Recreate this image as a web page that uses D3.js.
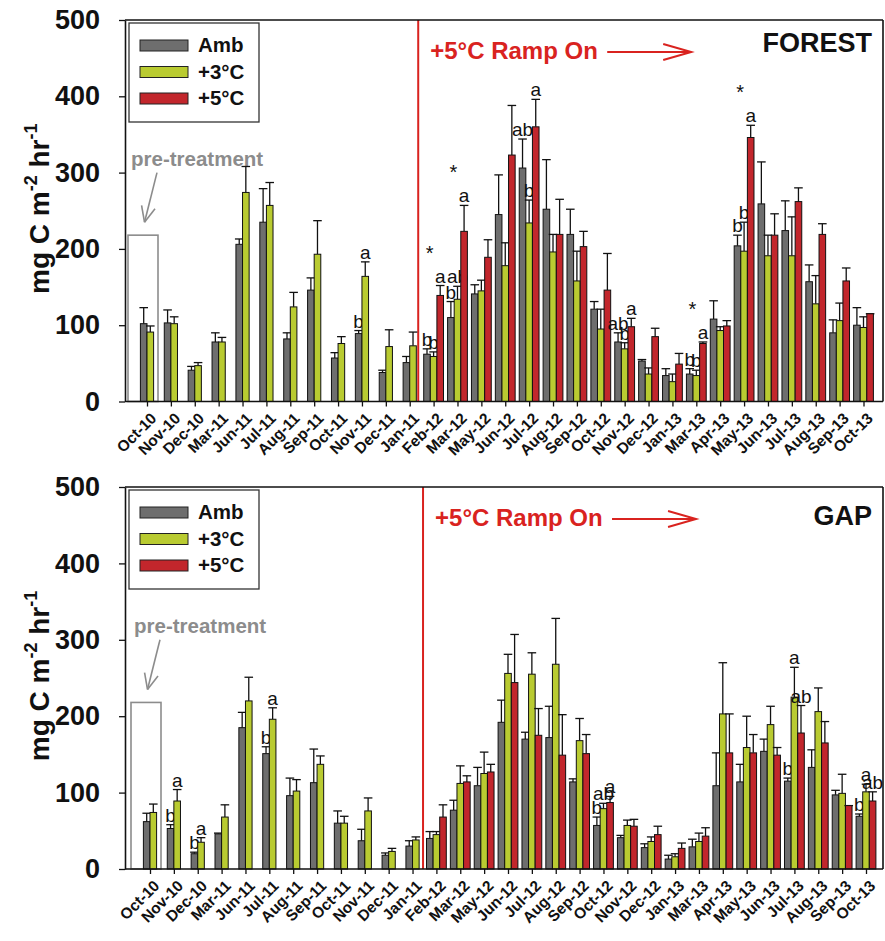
<!DOCTYPE html>
<html>
<head>
<meta charset="utf-8">
<script src="https://cdn.jsdelivr.net/npm/d3@7"></script>
<style>
  body { margin: 0; background: #fff; }
  svg { font-family: Arial, "Liberation Sans", sans-serif; }
</style>
</head>
<body>
<svg id="chart" width="885" height="941"></svg>
<script>
// sampling months (x categories)
const months = ["Oct-10","Nov-10","Dec-10","Mar-11","Jun-11","Jul-11","Aug-11","Sep-11","Oct-11","Nov-11","Dec-11","Jan-11",
  "Feb-12","Mar-12","May-12","Jun-12","Jul-12","Aug-12","Sep-12","Oct-12","Nov-12","Dec-12",
  "Jan-13","Mar-13","Apr-13","May-13","Jun-13","Jul-13","Aug-13","Sep-13","Oct-13"];
const seriesNames = ["Amb", "+3°C", "+5°C"];
const seriesColors = ["#6e6e6e", "#b9cb31", "#c2262c"];
const yTicks = [0, 100, 200, 300, 400, 500];

// FOREST: means and SE
const forestAmb   = [102,103,41,78,206,235,82,146,57,89,38,51, 62,110,141,245,306,252,219,121,78,53, 34,36,108,204,259,224,157,90,100];
const forestAmbSe = [21,17,5,12,7,44,8,16,7,4,3,8, 7,21,12,52,38,65,33,10,12,2, 9,7,24,14,55,39,22,17,23];
const forestT3    = [91,102,47,78,274,257,124,193,76,164,72,73, 59,134,145,178,234,196,158,95,69,36, 26,34,93,197,191,191,128,106,97];
const forestT3Se  = [8,9,4,6,34,30,19,44,9,19,22,18, 6,17,14,30,30,23,39,26,8,8, 10,7,5,38,27,51,37,23,14];
const forestT5    = [null,null,null,null,null,null,null,null,null,null,null,null, 139,223,189,323,360,219,203,146,98,85, 49,76,99,346,218,262,219,158,115];
const forestT5Se  = [null,null,null,null,null,null,null,null,null,null,null,null, 13,34,23,65,36,46,20,48,11,11, 14,2,7,16,28,18,14,17,0];
const forestAmbSig = {"Nov-11":"b","Feb-12":"b","Mar-12":"b","Jul-12":"ab","Nov-12":"ab","Mar-13":"b","May-13":"b"};
const forestT3Sig  = {"Nov-11":"a","Feb-12":"b","Mar-12":"ab","Jul-12":"b","Nov-12":"b","Mar-13":"b","May-13":"b"};
const forestT5Sig  = {"Feb-12":"a","Mar-12":"a","Jul-12":"a","Nov-12":"a","Mar-13":"a","May-13":"a"};
const forestStars  = ["Feb-12","Mar-12","Mar-13","May-13"];

// GAP: means and SE
const gapAmb   = [62,53,20,46,185,151,96,113,60,37,18,30, 40,77,109,192,170,172,114,57,41,28, 13,29,109,114,154,115,133,97,69];
const gapAmbSe = [11,5,2,1,20,9,23,44,16,15,3,7, 9,13,24,29,9,41,4,11,3,5, 5,10,43,23,16,4,23,6,3];
const gapT3    = [74,89,35,68,220,196,102,137,60,76,23,38, 45,112,125,256,255,268,168,79,57,36, 16,36,203,159,189,225,206,99,101];
const gapT3Se  = [11,15,6,16,31,15,15,11,9,17,4,4, 4,23,28,25,28,60,29,7,7,6, 4,11,67,41,24,39,31,25,10];
const gapT5    = [null,null,null,null,null,null,null,null,null,null,null,null, 68,114,127,244,175,149,151,87,56,45, 27,43,152,152,149,178,165,83,89];
const gapT5Se  = [null,null,null,null,null,null,null,null,null,null,null,null, 16,8,10,63,35,53,25,8,9,11, 7,11,51,24,10,36,28,0,12];
const gapAmbSig = {"Nov-10":"b","Dec-10":"b","Jul-11":"b","Oct-12":"b","Jul-13":"b","Oct-13":"b"};
const gapT3Sig  = {"Nov-10":"a","Dec-10":"a","Jul-11":"a","Oct-12":"ab","Jul-13":"a","Oct-13":"a"};
const gapT5Sig  = {"Oct-12":"a","Jul-13":"ab","Oct-13":"ab"};
const gapStars  = [];

const panels = [
  {title: "FOREST", top: 20, zero: 401.5, xFirst: 147, xLast: 863.5, rampDx: 8.5, titleDy: 32,
   means: [forestAmb, forestT3, forestT5], ses: [forestAmbSe, forestT3Se, forestT5Se],
   sigs: [forestAmbSig, forestT3Sig, forestT5Sig], stars: forestStars},
  {title: "GAP", top: 487, zero: 869, xFirst: 150, xLast: 866, rampDx: 10.5, titleDy: 38,
   means: [gapAmb, gapT3, gapT5], ses: [gapAmbSe, gapT3Se, gapT5Se],
   sigs: [gapAmbSig, gapT3Sig, gapT5Sig], stars: gapStars}
];

const svg = d3.select("#chart");
const plotLeft = 125, plotRight = 883;
const barW = 6.6;
const red = "#d9231f";
const fontStack = "Arial, 'Liberation Sans', sans-serif";

panels.forEach(p => {
  const g = svg.append("g");
  const y = d3.scaleLinear().domain([0, 500]).range([p.zero, p.top]);
  const x = d3.scalePoint().domain(months).range([p.xFirst, p.xLast]);

  // ramp-on line
  const rampX = x("Jan-11") + p.rampDx;
  g.append("line").attr("x1", rampX).attr("x2", rampX).attr("y1", p.top).attr("y2", p.zero)
    .attr("stroke", red).attr("stroke-width", 2);

  // pre-treatment box + arrow + label
  const x0 = x(months[0]);
  g.append("rect").attr("x", x0 - 19).attr("y", y(218)).attr("width", 30).attr("height", y(0) - y(218))
    .attr("fill", "none").attr("stroke", "#8c8c8c").attr("stroke-width", 1.6);
  const ax1 = x0 + 10, ay1 = y(300), ax2 = x0 - 2.5, ay2 = y(235);
  const ang = Math.atan2(ay2 - ay1, ax2 - ax1);
  g.append("line").attr("x1", ax1).attr("y1", ay1).attr("x2", ax2).attr("y2", ay2)
    .attr("stroke", "#8c8c8c").attr("stroke-width", 1.6);
  [-0.42, 0.42].forEach(da => {
    g.append("line").attr("x1", ax2).attr("y1", ay2)
      .attr("x2", ax2 - 17 * Math.cos(ang + da)).attr("y2", ay2 - 17 * Math.sin(ang + da))
      .attr("stroke", "#8c8c8c").attr("stroke-width", 1.6);
  });
  g.append("text").attr("x", x0 - 16).attr("y", y(309)).text("pre-treatment")
    .attr("font-size", 20.5).attr("font-weight", "bold").attr("fill", "#8c8c8c");

  // bars
  months.forEach((m, i) => {
    const idx = [0, 1, 2].filter(s => p.means[s][i] != null);
    const inner = d3.scaleBand().domain(idx).range([-idx.length * barW / 2, idx.length * barW / 2]);
    let maxTop = 0;
    idx.forEach(s => {
      const v = p.means[s][i], se = p.ses[s][i];
      const bx = x(m) + inner(s);
      const cx = bx + barW / 2;
      g.append("line").attr("x1", cx).attr("x2", cx).attr("y1", y(v)).attr("y2", y(v + se))
        .attr("stroke", "#111").attr("stroke-width", 1.3);
      g.append("line").attr("x1", cx - 4.3).attr("x2", cx + 4.3).attr("y1", y(v + se)).attr("y2", y(v + se))
        .attr("stroke", "#111").attr("stroke-width", 1.3);
      g.append("rect").attr("x", bx).attr("y", y(v)).attr("width", barW).attr("height", y(0) - y(v))
        .attr("fill", seriesColors[s]).attr("stroke", "#111").attr("stroke-width", 1);
      const sig = p.sigs[s][m];
      if (sig) {
        g.append("text").attr("x", cx).attr("y", y(v + se) - 3).attr("text-anchor", "middle")
          .attr("font-size", 19).attr("fill", "#111").text(sig);
      }
      maxTop = Math.max(maxTop, v + se);
    });
    if (p.stars.includes(m)) {
      g.append("text").attr("x", x(m) - 4).attr("y", y(maxTop) - 26).attr("text-anchor", "middle")
        .attr("font-size", 20).attr("fill", "#111").text("*");
    }
  });

  // frame
  g.append("line").attr("x1", plotLeft).attr("x2", plotRight).attr("y1", p.top).attr("y2", p.top)
    .attr("stroke", "#111").attr("stroke-width", 1.6);
  g.append("line").attr("x1", plotRight).attr("x2", plotRight).attr("y1", p.top).attr("y2", p.zero)
    .attr("stroke", "#111").attr("stroke-width", 1.6);

  // axes
  const yAxis = g.append("g").attr("transform", `translate(${plotLeft},0)`)
    .call(d3.axisLeft(y).tickValues(yTicks).tickSize(6).tickPadding(19).tickSizeOuter(0));
  yAxis.select(".domain").attr("stroke", "#111").attr("stroke-width", 1.6);
  yAxis.selectAll(".tick line").attr("stroke", "#111").attr("stroke-width", 1.3);
  yAxis.selectAll("text").attr("font-size", 27).attr("font-weight", "bold").attr("fill", "#111")
    .attr("font-family", fontStack);

  const xAxis = g.append("g").attr("transform", `translate(0,${p.zero})`)
    .call(d3.axisBottom(x).tickSize(5).tickSizeOuter(0));
  xAxis.select(".domain").attr("d", `M${plotLeft},0H${plotRight}`).attr("stroke", "#111").attr("stroke-width", 1.6);
  xAxis.selectAll(".tick line").attr("stroke", "#111").attr("stroke-width", 1.3);
  xAxis.selectAll("text").attr("x", 0).attr("y", 0).attr("dy", "0.35em")
    .attr("transform", "translate(6,14) rotate(-45)").style("text-anchor", "end")
    .attr("font-size", 15.5).attr("font-weight", "bold").attr("fill", "#111")
    .attr("font-family", fontStack);

  // legend
  const lg = g.append("g").attr("transform", `translate(${plotLeft + 4},${p.top + 3})`);
  lg.append("rect").attr("width", 130).attr("height", 99).attr("fill", "#fff")
    .attr("stroke", "#333").attr("stroke-width", 1.3);
  seriesNames.forEach((n, s) => {
    lg.append("rect").attr("x", 11).attr("y", 17 + s * 26.5).attr("width", 48).attr("height", 11)
      .attr("fill", seriesColors[s]).attr("stroke", "#222").attr("stroke-width", 1);
    lg.append("text").attr("x", 69).attr("y", 29 + s * 26.5).text(n)
      .attr("font-size", 20.5).attr("font-weight", "bold").attr("fill", "#111");
  });

  // ramp-on label and arrow
  g.append("text").attr("x", rampX + 12).attr("y", p.top + 39).text("+5°C Ramp On")
    .attr("font-size", 24).attr("font-weight", "bold").attr("fill", red);
  const arY = p.top + 32, arX1 = rampX + 189, arX2 = rampX + 273;
  g.append("line").attr("x1", arX1).attr("x2", arX2).attr("y1", arY).attr("y2", arY)
    .attr("stroke", red).attr("stroke-width", 2);
  g.append("path").attr("d", `M${arX2 - 28},${arY - 8}L${arX2},${arY}L${arX2 - 28},${arY + 8}`)
    .attr("fill", "none").attr("stroke", red).attr("stroke-width", 2);

  // panel title
  g.append("text").attr("x", 872).attr("y", p.top + p.titleDy).attr("text-anchor", "end").text(p.title)
    .attr("font-size", 27).attr("font-weight", "bold").attr("fill", "#111");

  // y label
  const yl = g.append("text").attr("transform", `translate(49,${(p.top + p.zero) / 2 - 2}) rotate(-90)`)
    .attr("text-anchor", "middle").attr("font-size", 28).attr("font-weight", "bold").attr("fill", "#111");
  yl.append("tspan").text("mg C m");
  yl.append("tspan").attr("dy", -12).attr("font-size", 18).text("-2");
  yl.append("tspan").attr("dy", 12).text(" hr");
  yl.append("tspan").attr("dy", -12).attr("font-size", 18).text("-1");
});
</script>
</body>
</html>
